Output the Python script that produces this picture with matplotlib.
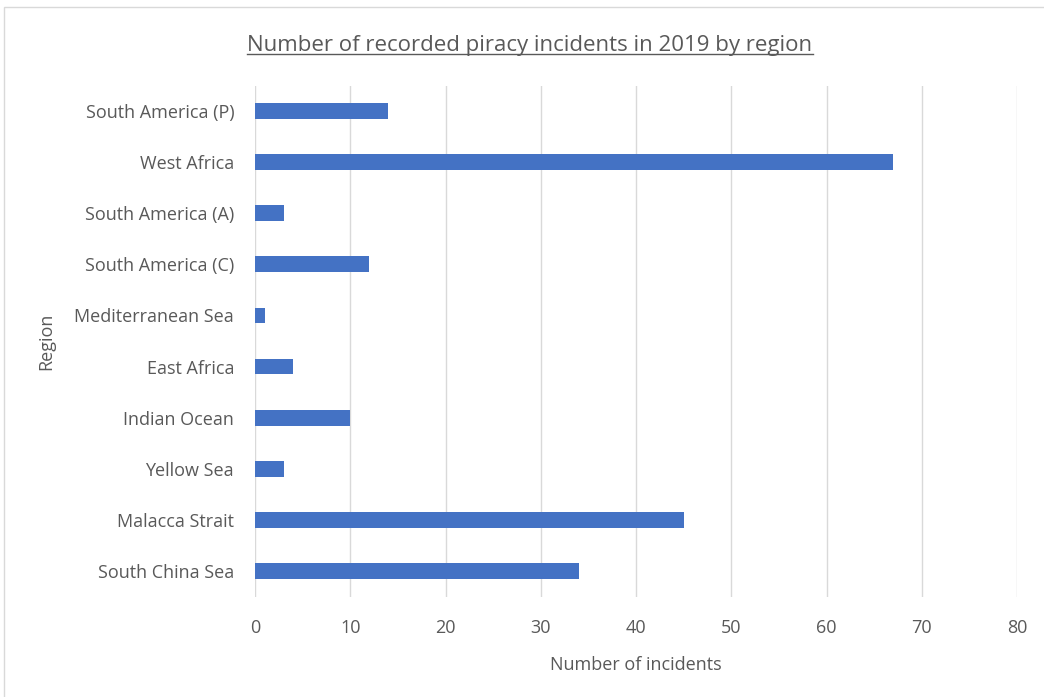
import matplotlib
matplotlib.use("Agg")
import matplotlib.pyplot as plt
from matplotlib.patches import Rectangle
from matplotlib.lines import Line2D

regions = ["South America (P)", "West Africa", "South America (A)", "South America (C)",
           "Mediterranean Sea", "East Africa", "Indian Ocean", "Yellow Sea",
           "Malacca Strait", "South China Sea"]
incidents = [14, 67, 3, 12, 1, 4, 10, 3, 45, 34]
xticks = [0, 10, 20, 30, 40, 50, 60, 70, 80]

plt.rcParams['font.family'] = ['Open Sans', 'DejaVu Sans']
txt = '#595959'

fig = plt.figure(figsize=(10.44, 6.97), dpi=100)
W, H = 1044, 697
ax = fig.add_axes([255 / W, 1 - 596.5 / H, (1017 - 255) / W, (596.5 - 85.5) / H])

ypos = list(range(len(regions)))[::-1]
ax.barh(ypos, incidents, height=0.31, color='#4472C4', zorder=3)
ax.set_ylim(-0.5, len(regions) - 0.5)
ax.set_xlim(0, 80)
ax.set_xticks(xticks)
ax.set_yticks(ypos)
ax.set_yticklabels(regions)
ax.grid(axis='x', color='#D9D9D9', linewidth=1, zorder=0)
for s in ax.spines.values():
    s.set_visible(False)
ax.tick_params(length=0, labelsize=13, colors=txt)
ax.tick_params(axis='x', pad=16)
ax.tick_params(axis='y', pad=15)
ax.set_xlabel('Number of incidents', fontsize=13, color=txt, labelpad=14)
ax.set_ylabel('Region', fontsize=13, color=txt, labelpad=14)

title = fig.text(530 / W, 1 - 45 / H, 'Number of recorded piracy incidents in 2019 by region',
                 ha='center', va='center', fontsize=16, color=txt)

# outer chart border
fig.patches.append(Rectangle((4 / W, -0.01), 1.01, 1 - 7 / H + 0.01, transform=fig.transFigure,
                             fill=False, edgecolor='#D9D9D9', linewidth=1))

# underline the title
fig.canvas.draw()
bb = title.get_window_extent().transformed(fig.transFigure.inverted())
fig.lines.append(Line2D([bb.x0, bb.x1], [bb.y0 + 0.002, bb.y0 + 0.002], transform=fig.transFigure,
                        color=txt, linewidth=1))

fig.savefig('out.png', dpi=100)
